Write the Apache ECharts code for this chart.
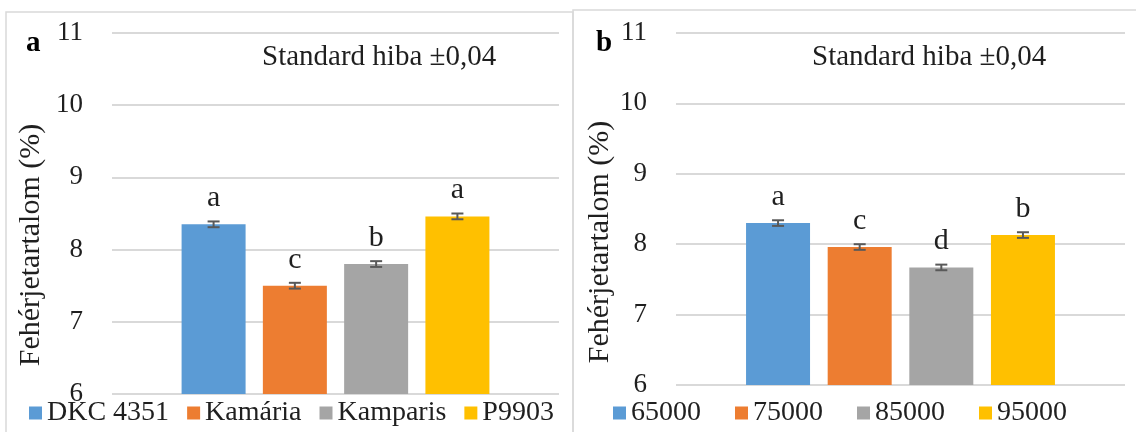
<!DOCTYPE html>
<html>
<head>
<meta charset="utf-8">
<script src="https://cdn.jsdelivr.net/npm/echarts@6/dist/echarts.min.js"></script>
<style>
  html, body { margin: 0; padding: 0; background: #ffffff; }
  #chart { width: 1136px; height: 432px; }
</style>
</head>
<body>
<div id="chart"></div>
<script>
// Panel a: protein content by hybrid
const hybrids = ['DKC 4351', 'Kamária', 'Kamparis', 'P9903'];
const hybridValues = [8.35, 7.50, 7.80, 8.46];
const hybridLetters = ['a', 'c', 'b', 'a'];

// Panel b: protein content by plant density
const densities = ['65000', '75000', '85000', '95000'];
const densityValues = [8.30, 7.96, 7.67, 8.13];
const densityLetters = ['a', 'c', 'd', 'b'];

// Standard error shown on every bar
const stdError = 0.04;
const stdErrorText = 'Standard hiba ±0,04';

// Shared axis settings
const yTicks = [6, 7, 8, 9, 10, 11];
const yTitle = 'Fehérjetartalom (%)';

const colors = ['#5b9bd5', '#ed7d31', '#a5a5a5', '#ffc000'];
const serif = '"Liberation Serif", "Times New Roman", serif';
const textColor = '#1f1f1f';
const gridColor = '#d9d9d9';

function yAxisFor(gridIndex) {
  return {
    type: 'value', gridIndex,
    min: yTicks[0], max: yTicks[yTicks.length - 1], interval: 1,
    axisLine: { show: false }, axisTick: { show: false },
    axisLabel: { fontFamily: serif, fontSize: 27, color: textColor, margin: 29 },
    splitLine: { lineStyle: { color: gridColor, width: 2 } }
  };
}

// Each bar sits at its position 1..4 on a hidden value axis
function xAxisFor(gridIndex) {
  return {
    type: 'value', gridIndex, min: -0.25, max: 5.25,
    show: false, splitLine: { show: false }
  };
}

function barsFor(names, values, letters, axisIndex) {
  return names.map((name, i) => ({
    type: 'bar', name,
    xAxisIndex: axisIndex, yAxisIndex: axisIndex,
    barWidth: 64, barGap: '-100%',
    itemStyle: { color: colors[i] },
    label: {
      show: true, position: 'top', distance: 11,
      formatter: () => letters[i],
      fontFamily: serif, fontSize: 30, color: textColor
    },
    data: [[i + 1, values[i]]],
    z: 2
  }));
}

function errorBarsFor(values, axisIndex) {
  return {
    type: 'custom',
    xAxisIndex: axisIndex, yAxisIndex: axisIndex,
    silent: true, z: 5,
    data: values.map((v, i) => [i + 1, v - stdError, v + stdError]),
    renderItem: (params, api) => {
      const lo = api.coord([api.value(0), api.value(1)]);
      const hi = api.coord([api.value(0), api.value(2)]);
      const half = 6;
      const style = { stroke: '#595959', lineWidth: 2 };
      return {
        type: 'group',
        children: [
          { type: 'line', shape: { x1: lo[0], y1: lo[1], x2: hi[0], y2: hi[1] }, style },
          { type: 'line', shape: { x1: lo[0] - half, y1: lo[1], x2: lo[0] + half, y2: lo[1] }, style },
          { type: 'line', shape: { x1: hi[0] - half, y1: hi[1], x2: hi[0] + half, y2: hi[1] }, style }
        ]
      };
    }
  };
}

function legendFor(names, left, gap) {
  return {
    data: names, left, bottom: 0,
    itemWidth: 13, itemHeight: 13, itemGap: gap,
    icon: 'rect',
    textStyle: { fontFamily: serif, fontSize: 28, color: textColor }
  };
}

function rotatedTitle(x, y) {
  return {
    type: 'text', x, y, rotation: Math.PI / 2,
    style: { text: yTitle, font: '30px ' + serif, fill: textColor,
             align: 'center', verticalAlign: 'middle' }
  };
}

const chart = echarts.init(document.getElementById('chart'), null, { renderer: 'canvas' });
chart.setOption({
  animation: false,
  backgroundColor: '#ffffff',
  grid: [
    { left: 112, top: 33, width: 447, height: 361 },
    { left: 676, top: 33, width: 449, height: 352 }
  ],
  xAxis: [xAxisFor(0), xAxisFor(1)],
  yAxis: [yAxisFor(0), yAxisFor(1)],
  legend: [legendFor(hybrids, 24, 18), legendFor(densities, 608, 34)],
  series: [
    ...barsFor(hybrids, hybridValues, hybridLetters, 0),
    errorBarsFor(hybridValues, 0),
    ...barsFor(densities, densityValues, densityLetters, 1),
    errorBarsFor(densityValues, 1)
  ],
  graphic: [
    // panel frames
    { type: 'rect', shape: { x: 6, y: 12, width: 567, height: 440 },
      style: { fill: 'none', stroke: gridColor, lineWidth: 1.5 }, z: -1 },
    { type: 'rect', shape: { x: 573, y: 10, width: 580, height: 440 },
      style: { fill: 'none', stroke: gridColor, lineWidth: 1.5 }, z: -1 },
    // value axis titles
    rotatedTitle(31, 245),
    rotatedTitle(600, 242),
    // panel letters
    { type: 'text', left: 26, top: 29,
      style: { text: 'a', font: 'bold 29px ' + serif, fill: '#000' } },
    { type: 'text', left: 596, top: 29,
      style: { text: 'b', font: 'bold 29px ' + serif, fill: '#000' } },
    // standard error notes
    { type: 'text', left: 262, top: 43,
      style: { text: stdErrorText, font: '29px ' + serif, fill: textColor } },
    { type: 'text', left: 812, top: 43,
      style: { text: stdErrorText, font: '29px ' + serif, fill: textColor } }
  ]
});
</script>
</body>
</html>
